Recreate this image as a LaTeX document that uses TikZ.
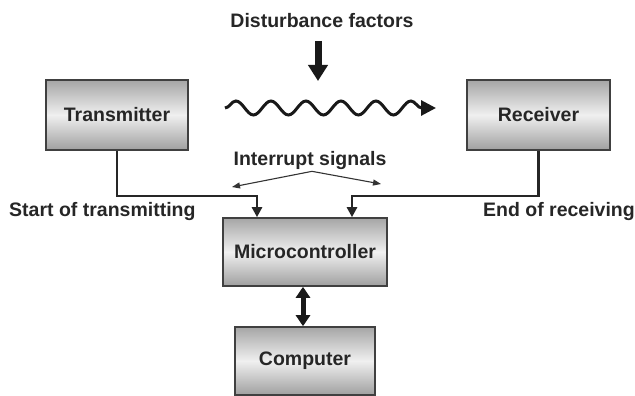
\documentclass[tikz,border=0pt]{standalone}
\usepackage{fontspec}
\setmainfont{Liberation Sans}
\usetikzlibrary{calc}
\usetikzlibrary{arrows.meta}
\usetikzlibrary{decorations.pathmorphing}

\tikzset{
  block/.style={draw=black!75, line width=1.6pt, top color=gray!70, bottom color=gray!75,
    middle color=gray!12, inner sep=0pt, text=black!85},
  lbl/.style={inner sep=1pt, text=black!85},
  sigline/.style={line width=2.5pt, black!85, -{Triangle[length=10pt,width=10pt]}},
  intarrow/.style={line width=1.1pt, black!80, -{Triangle[length=8pt,width=6pt]}},
  fatarrow/.style={line width=7pt, black!90, -{Triangle[length=16pt,width=19pt]}},
  duplex/.style={line width=5pt, black!90, {Triangle[length=11pt,width=14pt]}-{Triangle[length=11pt,width=14pt]}},
  wavy/.style={line width=3pt, black!90, decorate,
    decoration={snake, amplitude=7pt, segment length=35pt, post length=9pt},
    -{Triangle[length=15pt,width=15pt]}}
}

\begin{document}
\begin{tikzpicture}[x=1pt,y=-1pt,font=\fontsize{19.5}{22}\selectfont\bfseries]
\useasboundingbox (0,0) rectangle (635,396);
\coordinate (T) at (117,115);
\coordinate (R) at (538.5,115);
\coordinate (M) at (305,252);
\coordinate (P) at (305,361);
% the four blocks
\node[block, minimum width=142pt, minimum height=70pt] (tx) at (T) {Transmitter};
\node[block, minimum width=143pt, minimum height=70pt] (rx) at (R) {Receiver};
\node[block, minimum width=164pt, minimum height=68pt] (mcu) at (M) {Microcontroller};
\node[block, minimum width=140pt, minimum height=68pt] (pc) at (P) {Computer};
% texts
\node[lbl] (dist) at (322,21) {Disturbance factors};
\node[lbl] (ints) at (310,161) {Interrupt signals};
\node[lbl, anchor=west] (start) at (8,211) {Start of transmitting};
\node[lbl, anchor=east] (stop) at (636,211) {End of receiving};
% disturbance and channel
\coordinate (D0) at (318,41);
\coordinate (D1) at (318,81);
\draw[fatarrow] (D0) -- (D1);
\coordinate (W0) at (225,108);
\coordinate (W1) at (436,108);
\draw[wavy] (W0) -- (W1);
% interrupt lines
\draw[sigline] (tx.south) -- ++(0,45) -| ([xshift=-48pt]mcu.north);
\draw[sigline] (rx.south) -- ++(0,45) -| ([xshift=47pt]mcu.north);
\coordinate (IL) at (232,187);
\coordinate (IR) at (381,184);
\draw[intarrow] ([xshift=2pt]ints.south) -- (IL);
\draw[intarrow] ([xshift=2pt]ints.south) -- (IR);
% link to the computer
\draw[duplex] ([xshift=-2pt]mcu.south) -- ([xshift=-2pt]pc.north);
\end{tikzpicture}
\end{document}
